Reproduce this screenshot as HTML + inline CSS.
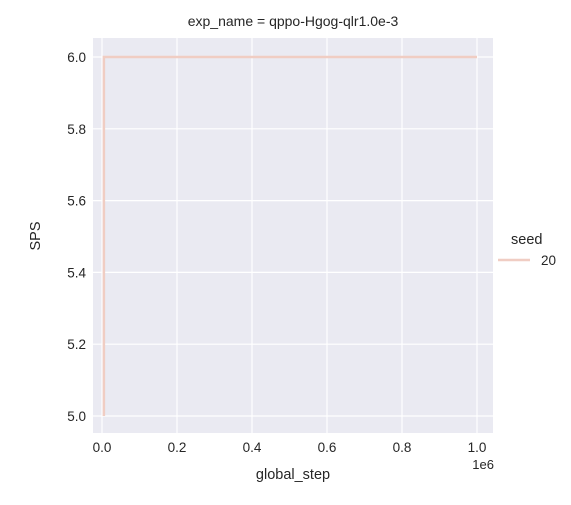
<!DOCTYPE html>
<html><head><meta charset="utf-8"><style>
body{margin:0;background:#fff;}
svg text{font-family:"Liberation Sans","DejaVu Sans",sans-serif;fill:#262626;}
</style></head><body>
<svg width="571" height="500" xmlns="http://www.w3.org/2000/svg">
<rect x="93" y="38" width="400" height="395" fill="#eaeaf2"/>
<g id="grid"></g>
<g id="ticks"></g>
<path id="series" fill="none" stroke="#f0cdc3" stroke-width="2.5"/>
<text x="293" y="26" font-size="14" text-anchor="middle">exp_name = qppo-Hgog-qlr1.0e-3</text>
<text x="293" y="479" font-size="14.5" text-anchor="middle">global_step</text>
<text x="40" y="236" font-size="14.5" text-anchor="middle" transform="rotate(-90 40 236)">SPS</text>
<text x="494" y="469" font-size="13" text-anchor="end">1e6</text>
<g>
<text x="511" y="244" font-size="14.5">seed</text>
<line x1="498" y1="260" x2="530" y2="260" stroke="#f0cdc3" stroke-width="2.5"/>
<text x="541" y="265" font-size="13.5">20</text>
</g>
</svg>
<script>
const xTicks=[0,0.2,0.4,0.6,0.8,1.0];
const xTickLabels=["0.0","0.2","0.4","0.6","0.8","1.0"];
const yTicks=[5.0,5.2,5.4,5.6,5.8,6.0];
const yTickLabels=["5.0","5.2","5.4","5.6","5.8","6.0"];
const steps=[5000,5000,1000000];
const sps=[5,6,6];
const X=v=>102+v*375/1e6, Xt=v=>102+v*375, Y=v=>416-(v-5)*359;
const ns="http://www.w3.org/2000/svg";
const g=document.getElementById('grid'), t=document.getElementById('ticks');
function mk(tag,attrs,parent){const e=document.createElementNS(ns,tag);for(const k in attrs)e.setAttribute(k,attrs[k]);parent.appendChild(e);return e;}
xTicks.forEach((v,i)=>{
 const l=mk('line',{x1:Xt(v),x2:Xt(v),y1:38,y2:433,stroke:'#fff','stroke-width':1.2},g);
 
 
 const tx=mk('text',{x:Xt(v),y:452,'font-size':13.5,'text-anchor':'middle'},t);
 tx.textContent=xTickLabels[i];
 
 
});
yTicks.forEach((v,i)=>{
 const l=mk('line',{x1:93,x2:493,y1:Y(v),y2:Y(v),stroke:'#fff','stroke-width':1.2},g);
 
 
 const tx=mk('text',{x:86,y:Y(v)+5,'font-size':13.5,'text-anchor':'end'},t);
 tx.textContent=yTickLabels[i];
 
 
});
document.getElementById('series').setAttribute('d',steps.map((s,i)=>(i?'L':'M')+X(s)+','+Y(sps[i])).join(' '));
</script>
</body></html>
